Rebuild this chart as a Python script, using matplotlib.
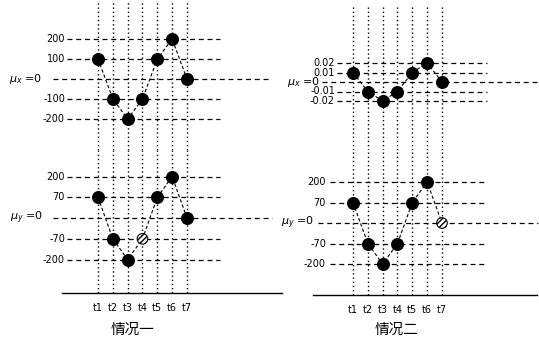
import matplotlib.pyplot as plt
import numpy as np

plt.rcParams['font.family'] = ['DejaVu Sans', 'Noto Sans CJK SC']

W, H = 539, 345
t = np.arange(1, 8)
t_labels = ['t1', 't2', 't3', 't4', 't5', 't6', 't7']

# 情况一
mux_1 = [100, -100, -200, -100, 100, 200, 0]
muy_1 = [70, -70, -200, -70, 70, 200, 0]
open_1 = 3          # hatched point of mu_y
# 情况二
mux_2 = [0.01, -0.01, -0.02, -0.01, 0.01, 0.02, 0]
muy_2 = [70, -70, -200, -70, 70, 200, 0]
open_2 = 6

x_levels_1 = [200, 100, -100, -200]
x_texts_1 = ['200', '100', '-100', '-200']
x_levels_2 = [0.02, 0.01, -0.01, -0.02]
x_texts_2 = ['0.02', '0.01', '-0.01', '-0.02']
y_levels = [200, 70, -70, -200]
y_texts = ['200', '70', '-70', '-200']

# mu_y levels are spaced evenly, not proportionally
y_knots = [-200, -70, 0, 70, 200]
y_steps = [-2, -1, 0, 1, 2]


def fwd(v):
    v = np.asarray(v, dtype=float)
    out = np.interp(v, y_knots, y_steps)
    out = np.where(v > 200, 2 + (v - 200) / 130, out)
    return np.where(v < -200, -2 + (v + 200) / 130, out)


def inv(s):
    s = np.asarray(s, dtype=float)
    out = np.interp(s, y_steps, y_knots)
    out = np.where(s > 2, 200 + (s - 2) * 130, out)
    return np.where(s < -2, -200 + (s + 2) * 130, out)


fig = plt.figure(figsize=(W / 100, H / 100), dpi=100)


def px_axes(x0, y0, x1, y1):
    ax = fig.add_axes([x0 / W, 1 - y1 / H, (x1 - x0) / W, (y1 - y0) / H])
    ax.patch.set_alpha(0)
    for s in ax.spines.values():
        s.set_visible(False)
    ax.set_xticks([])
    return ax


def t_of(px, t1_px):
    return 1 + (px - t1_px) / 14.83


def draw_row(ax, vals, levels, texts, mu, open_idx, t1_px,
             lab_px, line_px, zero_px, mu_px):
    ax.tick_params(axis='y', which='both', left=False, labelleft=False)
    vals = np.asarray(vals, dtype=float)
    ax.vlines(t, 0, 1, transform=ax.get_xaxis_transform(),
              colors='k', linestyles=(0, (1, 2)), lw=1)
    ax.hlines(levels, t_of(line_px[0], t1_px), t_of(line_px[1], t1_px),
              colors='k', linestyles=(0, (4, 3)), lw=0.9)
    ax.hlines(0, t_of(zero_px[0], t1_px), t_of(zero_px[1], t1_px),
              colors='k', linestyles=(0, (4, 3)), lw=0.9)
    for lv, tx in zip(levels, texts):
        ax.text(t_of(lab_px, t1_px), lv, tx, ha='right', va='center', fontsize=7)
    ax.text(t_of(mu_px, t1_px), 0, mu, ha='right', va='center', fontsize=8)
    ax.plot(t, vals, color='k', ls=(0, (3, 2)), lw=0.8)
    solid = np.array([i for i in range(len(t)) if i != open_idx])
    ax.scatter(t[solid], vals[solid], s=70, c='k', zorder=3)
    if open_idx is not None:
        ax.scatter([t[open_idx]], [vals[open_idx]], s=58, facecolor='white',
                   edgecolor='k', hatch='//////', lw=0.8, zorder=3)


def baseline(ax, t1_px, x0_px, x1_px):
    ax.spines['bottom'].set_visible(True)
    ax.spines['bottom'].set_bounds(t_of(x0_px, t1_px), t_of(x1_px, t1_px))
    ax.spines['bottom'].set_linewidth(1)
    ax.set_xticks(t)
    ax.set_xticklabels(t_labels, fontsize=7)
    ax.tick_params(axis='x', length=0, pad=7)


# ---- 情况一 ----
L = 98
ax = px_axes(0, 0, 282, 150)
ax.set_xlim(t_of(0, L), t_of(282, L))
ax.set_ylim(-355, 395)
draw_row(ax, mux_1, x_levels_1, x_texts_1, r'$\mu_x$ =0', None, L,
         65, (67, 220), (53, 270), 42)

ax = px_axes(0, 150, 282, 293)
ax.set_xlim(t_of(0, L), t_of(282, L))
ax.set_yscale('function', functions=(fwd, inv))
ax.set_ylim(float(inv(-3.61)), float(inv(3.28)))
draw_row(ax, muy_1, y_levels, y_texts, r'$\mu_y$ =0', open_1, L,
         65, (67, 220), (53, 272), 43)
baseline(ax, L, 62, 282)

# ---- 情况二 ----
R = 353
ax = px_axes(270, 7, 539, 150)
ax.set_xlim(t_of(270, R), t_of(539, R))
ax.set_ylim(-(150 - 82) / 950, (82 - 7) / 950)
draw_row(ax, mux_2, x_levels_2, x_texts_2, r'$\mu_x$ =0', None, R,
         335, (337, 487), (322, 538), 320)

ax = px_axes(270, 150, 539, 295)
ax.set_xlim(t_of(270, R), t_of(539, R))
ax.set_yscale('function', functions=(fwd, inv))
ax.set_ylim(float(inv(-3.51)), float(inv(3.56)))
draw_row(ax, muy_2, y_levels, y_texts, r'$\mu_y$ =0', open_2, R,
         326, (330, 487), (318, 538), 314)
baseline(ax, R, 313, 537)

fig.text(133 / W, 1 - 330 / H, '情况一', ha='center', va='center',
         fontsize=10.5, family='Noto Sans CJK SC')
fig.text(397 / W, 1 - 330 / H, '情况二', ha='center', va='center',
         fontsize=10.5, family='Noto Sans CJK SC')

fig.savefig('out.png', dpi=100)
